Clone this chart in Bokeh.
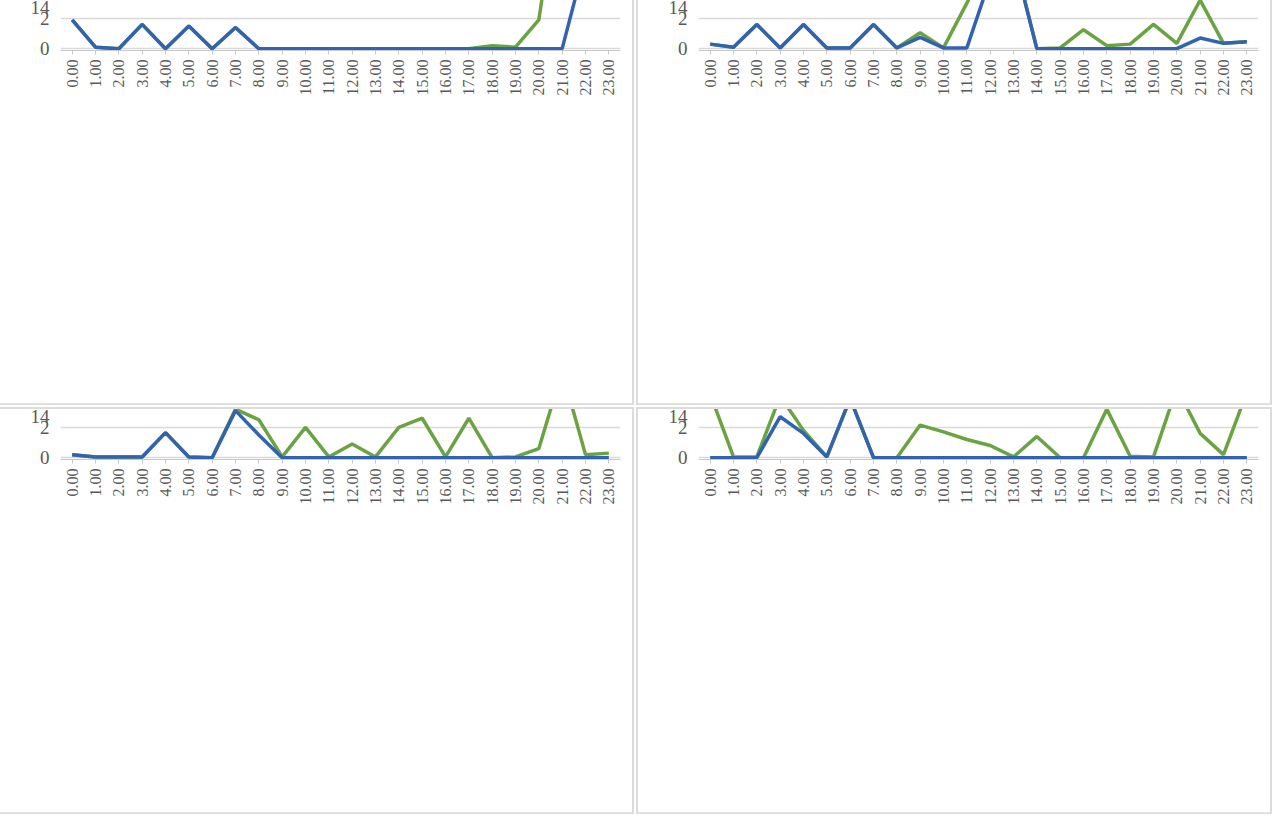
from math import pi
from bokeh.plotting import figure
from bokeh.layouts import column, row
from bokeh.models import Range1d, DataRange1d, FixedTicker, Legend, LegendItem
from bokeh.embed import file_html
from bokeh.resources import INLINE

hours = list(range(24))
hour_labels = [f"{h}.00" for h in hours]

sunny_winter_s1 = [1.9, 0.1, 0.0, 1.6, 0.0, 1.5, 0.0, 1.4, 0.0, 0.0, 0.0, 0.0,
                   0.0, 0.0, 0.0, 0.0, 0.0, 0.0, 0.2, 0.1, 1.9, 12.2, 13.0, 6.1]
sunny_winter_s2 = [1.9, 0.1, 0.0, 1.6, 0.0, 1.5, 0.0, 1.4, 0.0, 0.0, 0.0, 0.0,
                   0.0, 0.0, 0.0, 0.0, 0.0, 0.0, 0.0, 0.0, 0.0, 0.0, 5.9, 6.1]

cloudy_winter_s1 = [0.3, 0.1, 1.6, 0.05, 1.6, 0.05, 0.05, 1.6, 0.05, 1.05, 0.05, 3.0,
                    6.1, 6.1, 0.0, 0.05, 1.25, 0.2, 0.3, 1.6, 0.35, 3.2, 0.35, 0.45]
cloudy_winter_s2 = [0.3, 0.1, 1.6, 0.05, 1.6, 0.05, 0.05, 1.6, 0.05, 0.75, 0.05, 0.05,
                    4.6, 6.1, 0.0, 0.0, 0.0, 0.0, 0.0, 0.0, 0.0, 0.7, 0.35, 0.45]

sunny_summer_s1 = [0.2, 0.05, 0.05, 0.05, 1.65, 0.05, 0.0, 3.2, 2.5, 0.05, 2.0, 0.05,
                   0.9, 0.05, 2.0, 2.6, 0.05, 2.6, 0.0, 0.05, 0.6, 5.7, 0.2, 0.3]
sunny_summer_s2 = [0.2, 0.05, 0.05, 0.05, 1.65, 0.05, 0.0, 3.1, 1.5, 0.0, 0.0, 0.0,
                   0.0, 0.0, 0.0, 0.0, 0.0, 0.0, 0.0, 0.0, 0.0, 0.0, 0.0, 0.0]

cloudy_summer_s1 = [4.2, 0.05, 0.05, 4.05, 1.8, 0.05, 3.9, 0.0, 0.0, 2.15, 1.7, 1.2,
                    0.8, 0.05, 1.4, 0.0, 0.0, 3.2, 0.1, 0.05, 4.6, 1.6, 0.2, 4.3]
cloudy_summer_s2 = [0.0, 0.0, 0.0, 2.7, 1.6, 0.05, 3.9, 0.0, 0.0, 0.0, 0.0, 0.0,
                    0.0, 0.0, 0.0, 0.0, 0.0, 0.0, 0.0, 0.0, 0.0, 0.0, 0.0, 0.0]

panels = [
    ("Import from grid-Sunny winter day", sunny_winter_s1, sunny_winter_s2,
     "Sunny winter day  Scenario 1", "Sunny winter day  Scenario 2"),
    ("Import from grid-Cloudy winter day", cloudy_winter_s1, cloudy_winter_s2,
     "Cloudy winter day Scenario 1", "Cloudy winter day Scenario 2"),
    ("Import from grid-Sunny summer day", sunny_summer_s1, sunny_summer_s2,
     "Sunny summer day Scenario 1", "Sunny summer day Scenario 2"),
    ("Import from grid-Cloudy summer day", cloudy_summer_s1, cloudy_summer_s2,
     "Cloudy summer day  Scenario 1", "Cloudy summer day  Scenario 2"),
]

FONT = "Liberation Serif"
TXT = "#595959"
GREEN = "#6aa342"
BLUE = "#3263b0"
W, H = 632, 403


def make(title, s1, s2, lab1, lab2):
    p = figure(width=W, height=H, output_backend="svg", toolbar_location=None,
               x_range=DataRange1d(range_padding=0.5, range_padding_units="absolute"),
               y_range=Range1d(-0.12, 14.05),
               min_border_left=57, min_border_right=12, min_border_top=50,
               min_border_bottom=8, title=title)
    p.styles = {"outline": "2px solid #dcdcdc", "outline-offset": "0px"}
    p.outline_line_color = None
    p.title.align = "center"
    p.title.text_font = FONT
    p.title.text_font_style = "normal"
    p.title.text_font_size = "21px"
    p.title.text_color = "#404040"

    p.xgrid.grid_line_color = None
    p.ygrid.grid_line_color = "#d9d9d9"
    p.ygrid.grid_line_width = 1.5

    p.yaxis.ticker.desired_num_ticks = 8
    p.yaxis.axis_line_color = None
    p.yaxis.major_tick_line_color = None
    p.yaxis.minor_tick_line_color = None
    p.yaxis.major_label_text_font = FONT
    p.yaxis.major_label_text_font_size = "19px"
    p.yaxis.major_label_text_color = TXT
    p.yaxis.axis_label = "kWh"
    p.yaxis.axis_label_text_font = FONT
    p.yaxis.axis_label_text_font_style = "normal"
    p.yaxis.axis_label_text_font_size = "17px"
    p.yaxis.axis_label_text_color = TXT

    p.xaxis.ticker = FixedTicker(ticks=hours)
    p.xaxis.major_label_overrides = {h: l for h, l in zip(hours, hour_labels)}
    p.xaxis.major_label_orientation = pi / 2
    p.xaxis.major_label_text_font = FONT
    p.xaxis.major_label_text_font_size = "16px"
    p.xaxis.major_label_text_color = TXT
    p.xaxis.axis_line_color = "#c8c8c8"
    p.xaxis.major_tick_line_color = "#c8c8c8"
    p.xaxis.major_tick_in = 0
    p.xaxis.major_tick_out = 4
    p.xaxis.minor_tick_line_color = None

    r1 = p.line(hours, s1, line_color=GREEN, line_width=3.5)
    r2 = p.line(hours, s2, line_color=BLUE, line_width=3.5)

    leg = Legend(items=[LegendItem(label=lab1, renderers=[r1]),
                        LegendItem(label=lab2, renderers=[r2])],
                 orientation="horizontal", location="center",
                 label_text_font=FONT, label_text_font_size="17px",
                 label_text_color=TXT, glyph_width=36,
                 label_standoff=2, spacing=22, border_line_color=None,
                 background_fill_alpha=0)
    p.add_layout(leg, "below")
    return p


figs = [make(*pp) for pp in panels]
layout = column(row(figs[0], figs[1], spacing=6), row(figs[2], figs[3], spacing=6),
                spacing=6)

open("out.html", "w").write(file_html(layout, INLINE))
